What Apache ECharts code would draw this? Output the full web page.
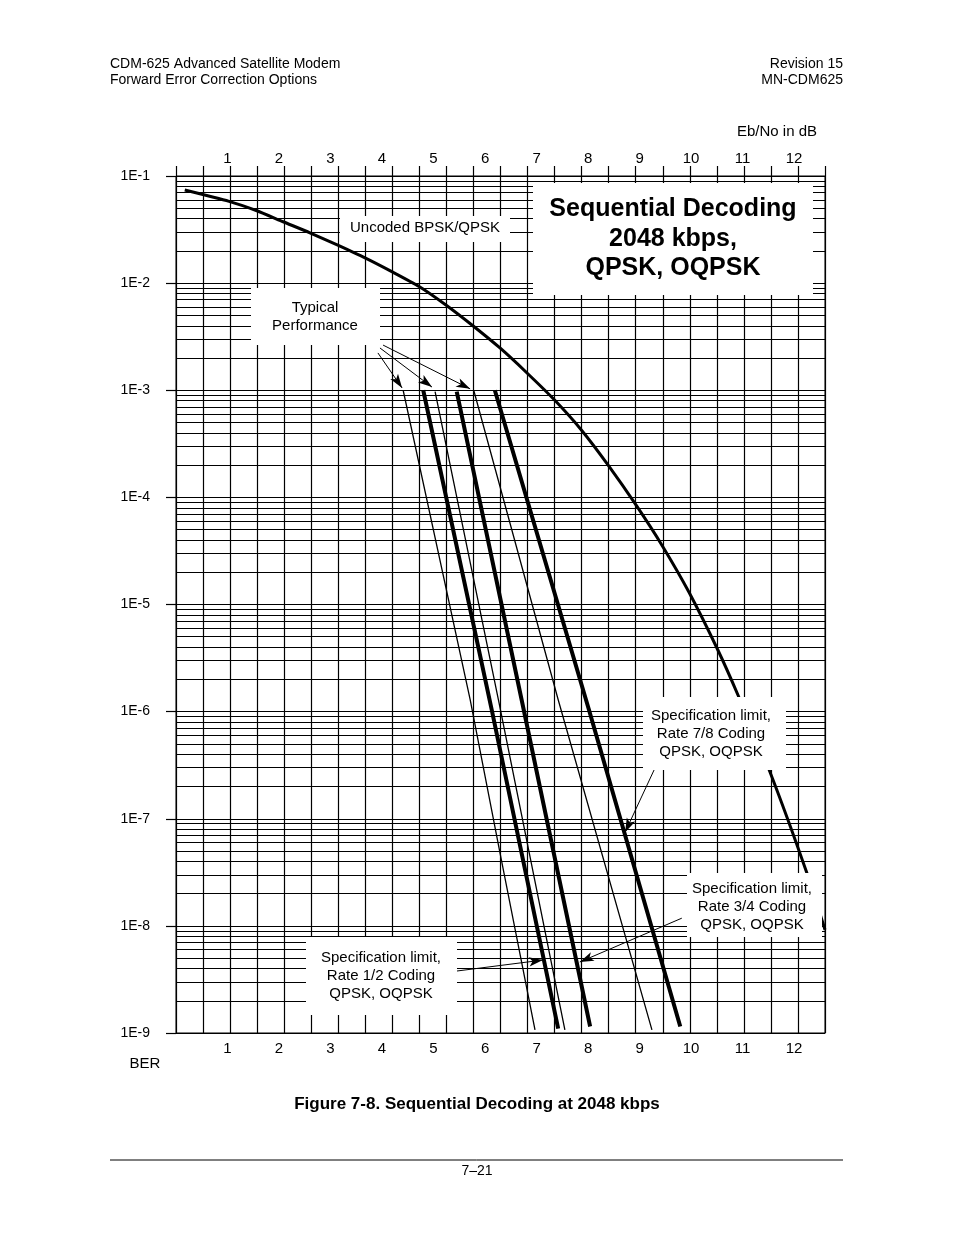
<!DOCTYPE html>
<html>
<head>
<meta charset="utf-8">
<script src="https://cdn.jsdelivr.net/npm/echarts@6/dist/echarts.min.js"></script>
<style>
  html, body { margin: 0; padding: 0; background: #fff; }
  #chart { width: 954px; height: 1235px; }
</style>
</head>
<body>
<div id="chart"></div>
<script>
// ---------- data ----------
const ebnoTicks = [1, 2, 3, 4, 5, 6, 7, 8, 9, 10, 11, 12];
const ebnoTickLabels = ['1', '2', '3', '4', '5', '6', '7', '8', '9', '10', '11', '12'];
const berDecades = [1e-1, 1e-2, 1e-3, 1e-4, 1e-5, 1e-6, 1e-7, 1e-8, 1e-9];
const berTickLabels = ['1E-1', '1E-2', '1E-3', '1E-4', '1E-5', '1E-6', '1E-7', '1E-8', '1E-9'];

const uncodedEbNo = [0.17, 1.03, 1.57, 2.08, 2.60, 3.13, 3.67, 4.19, 4.72, 5.24, 5.77, 6.29, 6.815, 7.35, 7.87, 8.39, 8.93, 9.44, 9.96, 10.52, 10.91, 11.53, 12.25, 12.6];
const uncodedBer  = [7.4e-2, 5.8e-2, 4.74e-2, 3.74e-2, 2.95e-2, 2.27e-2, 1.72e-2, 1.28e-2, 9.3e-3, 6.25e-3, 3.98e-3, 2.48e-3, 1.45e-3, 8.1e-4, 4.26e-4, 2.0e-4, 8.5e-5, 3.54e-5, 1.3e-5, 3.76e-6, 1.43e-6, 2.75e-7, 3.1e-8, 9.2e-9];

const typical12EbNo = [4.41, 5.71, 6.29, 6.97];
const typical12Ber  = [1.0e-3, 1.3e-6, 4.8e-8, 1.07e-9];
const spec12EbNo = [4.80, 6.13, 7.42];
const spec12Ber  = [1.0e-3, 1.04e-6, 1.1e-9];
const typical34EbNo = [5.03, 6.26, 7.55];
const typical34Ber  = [9.7e-4, 1.29e-6, 1.07e-9];
const spec34EbNo = [5.45, 6.71, 8.04];
const spec34Ber  = [9.7e-4, 1.29e-6, 1.15e-9];
const typical78EbNo = [5.78, 7.42, 9.24];
const typical78Ber  = [1.0e-3, 1.29e-6, 1.07e-9];
const spec78EbNo = [6.19, 8.01, 9.79];
const spec78Ber  = [1.0e-3, 1.07e-6, 1.15e-9];

// minor BER grid mantissas
const minorMantissas = [2, 3, 4, 5, 6, 7, 8, 9];

// annotation arrows: [fromEbNo, fromBer, toEbNo, toBer]
const arrowsTypical = [
  [3.92, 2.23e-3, 4.39, 1.05e-3],
  [3.96, 2.48e-3, 4.97, 1.07e-3],
  [4.02, 2.64e-3, 5.71, 1.03e-3]
];
const arrowsSpec = [
  [5.455, 3.79e-9, 7.125, 4.8e-9],
  [9.82, 1.18e-8, 7.84, 4.6e-9],
  [9.30, 2.98e-7, 8.72, 7.5e-8]
];

// ---------- build ----------
const FONT = '"Liberation Sans", Arial, Helvetica, sans-serif';
const zip = (xs, ys) => xs.map((x, i) => [x, ys[i]]);
const X_MIN = 0, X_MAX = 12.6, X_GRID = 0.525;

const minorGrid = [];
for (let i = 0; i < berDecades.length - 1; i++) {
  minorMantissas.forEach(m => {
    const v = m * berDecades[i + 1];
    minorGrid.push({ coords: [[X_MIN, v], [X_MAX, v]] });
  });
}

function arrowLines(list) {
  return list.map(a => [
    { coord: [a[0], a[1]], symbol: 'none' },
    { coord: [a[2], a[3]], symbol: 'arrow', symbolSize: [7, 14] }
  ]);
}

function lineSeries(name, xs, ys, width, smooth) {
  return {
    name, type: 'line', xAxisIndex: 0, yAxisIndex: 0,
    data: zip(xs, ys), symbol: 'none', smooth: smooth || false,
    lineStyle: { color: '#000', width }, z: 5, silent: true
  };
}

const chart = echarts.init(document.getElementById('chart'), null, { renderer: 'canvas' });

function textEl(x, y, text, size, opts) {
  opts = opts || {};
  return {
    type: 'text', x, y, z: 120, silent: true,
    style: {
      text, fill: '#000',
      font: (opts.bold ? 'bold ' : '') + size + 'px ' + FONT,
      textAlign: opts.align || 'left', align: opts.align || 'left',
      textVerticalAlign: 'middle', verticalAlign: 'middle',
      lineHeight: opts.lineHeight || size * 1.2
    }
  };
}
function boxEl(x, y, w, h) {
  return { type: 'rect', z: 110, silent: true, shape: { x, y, width: w, height: h }, style: { fill: '#fff' } };
}

const labelFormatter = v => { const i = ebnoTicks.indexOf(Math.round(v * 1000) / 1000); return i >= 0 ? ebnoTickLabels[i] : ''; };

const option = {
  animation: false,
  backgroundColor: '#fff',
  grid: { left: 176, top: 176, width: 649, height: 857, show: true, borderColor: '#000', borderWidth: 1, containLabel: false },
  xAxis: [
    { // grid lines
      type: 'value', min: X_MIN, max: X_MAX, interval: X_GRID, position: 'bottom',
      axisLine: { show: true, lineStyle: { color: '#000', width: 1 } },
      axisTick: { show: false }, axisLabel: { show: false },
      splitLine: { show: true, lineStyle: { color: '#000', width: 1.2 } }
    },
    { // top ticks
      type: 'value', min: X_MIN, max: X_MAX, interval: X_GRID, position: 'top',
      axisLine: { show: true, lineStyle: { color: '#000', width: 1 } },
      axisTick: { show: true, inside: false, length: 10, lineStyle: { color: '#000', width: 1.2 } },
      axisLabel: { show: false }, splitLine: { show: false }
    },
    { // bottom labels
      type: 'value', min: X_MIN, max: X_MAX, interval: 1, position: 'bottom',
      axisLine: { show: false }, axisTick: { show: false }, splitLine: { show: false },
      axisLabel: { show: true, margin: 8, color: '#000', fontFamily: FONT, fontSize: 15, showMaxLabel: false, showMinLabel: false, formatter: labelFormatter }
    },
    { // top labels
      type: 'value', min: X_MIN, max: X_MAX, interval: 1, position: 'top',
      axisLine: { show: false }, axisTick: { show: false }, splitLine: { show: false },
      axisLabel: { show: true, margin: 10, color: '#000', fontFamily: FONT, fontSize: 15, showMaxLabel: false, showMinLabel: false, formatter: labelFormatter }
    }
  ],
  yAxis: [{
    type: 'log', logBase: 10, min: 1e-9, max: 1e-1, position: 'left',
    axisLine: { show: true, lineStyle: { color: '#000', width: 1 } },
    axisTick: { show: true, inside: false, length: 10, lineStyle: { color: '#000', width: 1.2 } },
    splitLine: { show: true, lineStyle: { color: '#000', width: 1.2 } },
    minorTick: { show: false }, minorSplitLine: { show: false },
    axisLabel: {
      show: true, margin: 26, color: '#000', fontFamily: FONT, fontSize: 14,
      formatter: v => {
        let best = -1, bd = 1e9;
        berDecades.forEach((d, i) => { const dd = Math.abs(Math.log10(d) - Math.log10(v)); if (dd < bd) { bd = dd; best = i; } });
        return bd < 1e-6 ? berTickLabels[best] : '';
      }
    }
  }],
  series: [
    {
      name: 'minorGrid', type: 'lines', coordinateSystem: 'cartesian2d', xAxisIndex: 0, yAxisIndex: 0,
      z: 1, silent: true, polyline: false, symbol: ['none', 'none'],
      lineStyle: { color: '#000', width: 1.2, opacity: 1, curveness: 0 },
      data: minorGrid
    },
    lineSeries('Uncoded BPSK/QPSK', uncodedEbNo, uncodedBer, 3, 0.2),
    lineSeries('Typical Rate 1/2', typical12EbNo, typical12Ber, 1.3),
    lineSeries('Spec Rate 1/2', spec12EbNo, spec12Ber, 4),
    lineSeries('Typical Rate 3/4', typical34EbNo, typical34Ber, 1.3),
    lineSeries('Spec Rate 3/4', spec34EbNo, spec34Ber, 4),
    lineSeries('Typical Rate 7/8', typical78EbNo, typical78Ber, 1.3),
    lineSeries('Spec Rate 7/8', spec78EbNo, spec78Ber, 4),
    {
      name: 'arrows', type: 'line', data: [], z: 130, silent: true,
      markLine: {
        silent: true, label: { show: false }, animation: false,
        lineStyle: { color: '#000', width: 1, type: 'solid' },
        itemStyle: { color: '#000' },
        data: arrowLines(arrowsTypical.concat(arrowsSpec))
      }
    }
  ],
  graphic: [
    textEl(110, 64, 'CDM-625 Advanced Satellite Modem', 14),
    textEl(110, 80, 'Forward Error Correction Options', 14),
    textEl(843, 64, 'Revision 15', 14, { align: 'right' }),
    textEl(843, 80, 'MN-CDM625', 14, { align: 'right' }),
    textEl(817, 132, 'Eb/No in dB', 15, { align: 'right' }),
    textEl(145, 1064, 'BER', 15, { align: 'center' }),
    textEl(477, 1104, 'Figure 7-8. Sequential Decoding at 2048 kbps', 17, { align: 'center', bold: true }),
    { type: 'line', z: 120, silent: true, shape: { x1: 110, y1: 1160, x2: 843, y2: 1160 }, style: { stroke: '#000', lineWidth: 1 } },
    textEl(477, 1171, '7–21', 14, { align: 'center' }),
    boxEl(340, 216, 170, 26),
    textEl(425, 228, 'Uncoded BPSK/QPSK', 15, { align: 'center' }),
    boxEl(533, 183, 280, 112),
    textEl(673, 239, 'Sequential Decoding\n2048 kbps,\nQPSK, OQPSK', 25, { align: 'center', bold: true, lineHeight: 29.5 }),
    boxEl(251, 288, 129, 57),
    textEl(315, 317, 'Typical\nPerformance', 15, { align: 'center', lineHeight: 18 }),
    boxEl(643, 697, 143, 73),
    textEl(711, 734, 'Specification limit,\nRate 7/8 Coding\nQPSK, OQPSK', 15, { align: 'center', lineHeight: 18 }),
    boxEl(687, 873, 135, 64),
    textEl(752, 907, 'Specification limit,\nRate 3/4 Coding\nQPSK, OQPSK', 15, { align: 'center', lineHeight: 18 }),
    boxEl(306, 937, 151, 78),
    textEl(381, 976, 'Specification limit,\nRate 1/2 Coding\nQPSK, OQPSK', 15, { align: 'center', lineHeight: 18 })
  ]
};
chart.setOption(option);
</script>
</body>
</html>
